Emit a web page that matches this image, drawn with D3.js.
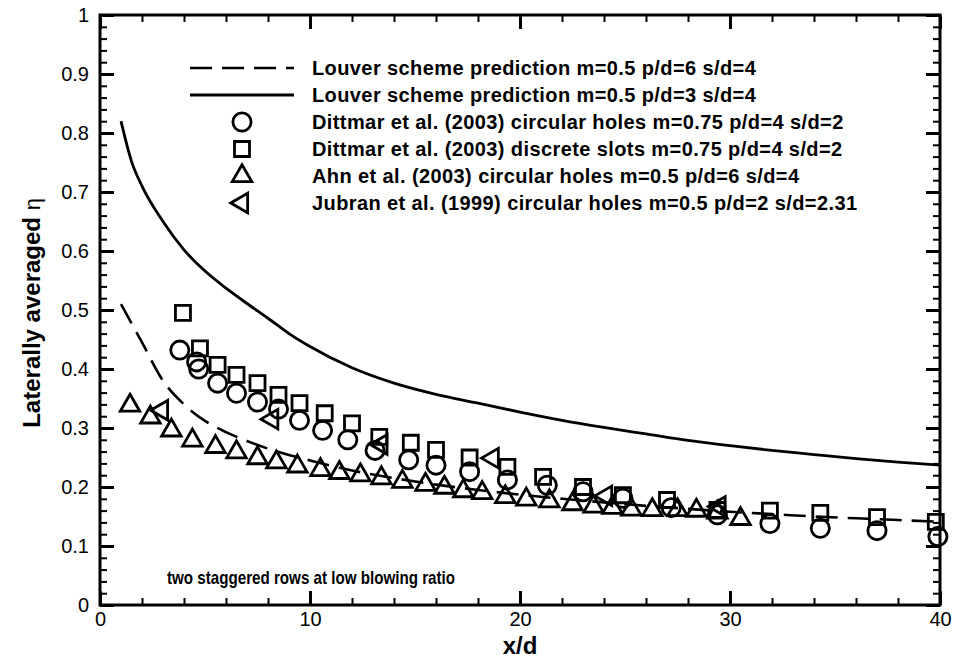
<!DOCTYPE html>
<html>
<head>
<meta charset="utf-8">
<script src="https://cdn.jsdelivr.net/npm/d3@7"></script>
<style>
  body { margin: 0; background: #fff; }
  text { font-family: "Liberation Sans", Arial, sans-serif; fill: #000; }
</style>
</head>
<body>
<div id="chart"></div>
<script>
// Louver scheme prediction, p/d=6 (dashed)
const dashX = [1, 2, 3, 4, 5, 6, 7, 8, 10, 12, 14, 16, 18, 20, 22, 24, 26, 28, 30, 32, 34, 36, 38, 40]
const dashY = [0.51, 0.445, 0.38, 0.34, 0.312, 0.293, 0.278, 0.265, 0.245, 0.228, 0.215, 0.204, 0.195, 0.187, 0.18, 0.174, 0.168, 0.163, 0.158, 0.154, 0.15, 0.147, 0.144, 0.141]
// Louver scheme prediction, p/d=3 (solid)
const solidX = [1, 1.5, 2, 3, 4, 5, 6, 7, 8, 9, 10, 12, 14, 16, 18, 20, 22, 24, 26, 28, 30, 32, 34, 36, 38, 40]
const solidY = [0.82, 0.752, 0.71, 0.65, 0.602, 0.566, 0.537, 0.511, 0.486, 0.46, 0.438, 0.402, 0.376, 0.357, 0.342, 0.327, 0.313, 0.301, 0.29, 0.279, 0.27, 0.262, 0.255, 0.248, 0.242, 0.237]
// Dittmar circular holes
const circX = [3.8, 4.6, 4.7, 5.6, 6.5, 7.5, 8.5, 9.5, 10.6, 11.8, 13.1, 14.7, 16, 17.6, 19.4, 21.3, 23, 24.9, 27.2, 29.4, 31.9, 34.3, 37, 39.9]
const circY = [0.432, 0.412, 0.4, 0.376, 0.359, 0.344, 0.332, 0.313, 0.296, 0.28, 0.262, 0.246, 0.237, 0.226, 0.212, 0.203, 0.192, 0.181, 0.165, 0.153, 0.138, 0.13, 0.126, 0.116]
// Dittmar discrete slots
const sqX = [3.95, 4.76, 5.6, 6.5, 7.5, 8.5, 9.5, 10.7, 12, 13.3, 14.8, 16, 17.6, 19.4, 21.1, 23, 24.9, 27, 29.4, 31.9, 34.3, 37, 39.8]
const sqY = [0.495, 0.435, 0.407, 0.39, 0.376, 0.356, 0.342, 0.325, 0.308, 0.285, 0.275, 0.263, 0.25, 0.234, 0.217, 0.2, 0.186, 0.178, 0.161, 0.16, 0.156, 0.149, 0.141]
// Ahn circular holes
const triX = [1.43, 2.4, 3.4, 4.4, 5.5, 6.5, 7.5, 8.4, 9.4, 10.5, 11.4, 12.4, 13.4, 14.4, 15.5, 16.4, 17.3, 18.2, 19.3, 20.3, 21.4, 22.5, 23.5, 24.4, 25.3, 26.3, 27.5, 28.4, 29.4, 30.5]
const triY = [0.338, 0.318, 0.296, 0.279, 0.268, 0.259, 0.249, 0.242, 0.235, 0.229, 0.224, 0.22, 0.215, 0.209, 0.204, 0.199, 0.193, 0.19, 0.183, 0.179, 0.176, 0.171, 0.167, 0.165, 0.162, 0.161, 0.161, 0.16, 0.157, 0.146]
// Jubran circular holes
const ltriX = [2.95, 8.2, 13.4, 18.7, 24.1, 29.5]
const ltriY = [0.33, 0.315, 0.272, 0.249, 0.185, 0.167]

const legendLabels = [
  "Louver scheme prediction m=0.5 p/d=6 s/d=4",
  "Louver scheme prediction m=0.5 p/d=3 s/d=4",
  "Dittmar et al. (2003) circular holes m=0.75 p/d=4 s/d=2",
  "Dittmar et al. (2003) discrete slots m=0.75 p/d=4 s/d=2",
  "Ahn et al. (2003) circular holes m=0.5 p/d=6 s/d=4",
  "Jubran et al. (1999) circular holes m=0.5 p/d=2 s/d=2.31"
]
const xTicks = [0, 10, 20, 30, 40]
const yTicks = [0, 0.1, 0.2, 0.3, 0.4, 0.5, 0.6, 0.7, 0.8, 0.9, 1]

const margin = {top: 15, right: 18, bottom: 60, left: 100}
const W = 958, H = 665
const width = W - margin.left - margin.right
const height = H - margin.top - margin.bottom

const svg = d3.select("#chart").append("svg")
  .attr("width", W).attr("height", H)
const g = svg.append("g")
  .attr("transform", "translate(" + margin.left + "," + margin.top + ")")

const x = d3.scaleLinear().domain([0, 40]).range([0, width])
const y = d3.scaleLinear().domain([0, 1]).range([height, 0])

const zip = (xs, ys) => xs.map((v, i) => [v, ys[i]])

// minor ticks (inward)
const minorX = d3.range(0, 40.01, 2)
const minorY = d3.range(0, 1.001, 0.02)
const tickStyle = sel => sel.call(s => s.select(".domain").remove())
  .selectAll("line").attr("stroke", "#000").attr("stroke-width", 2)

g.append("g").attr("transform", "translate(0," + height + ")")
  .call(d3.axisBottom(x).tickValues(minorX).tickSize(-7).tickFormat(""))
  .call(tickStyle)
g.append("g")
  .call(d3.axisTop(x).tickValues(minorX).tickSize(-7).tickFormat(""))
  .call(tickStyle)
g.append("g")
  .call(d3.axisLeft(y).tickValues(minorY).tickSize(-7).tickFormat(""))
  .call(tickStyle)
g.append("g").attr("transform", "translate(" + width + ",0)")
  .call(d3.axisRight(y).tickValues(minorY).tickSize(-7).tickFormat(""))
  .call(tickStyle)

// major ticks with labels
const xAxis = g.append("g").attr("transform", "translate(0," + height + ")")
  .call(d3.axisBottom(x).tickValues(xTicks).tickSize(-14).tickFormat(d3.format("d")))
xAxis.select(".domain").remove()
xAxis.selectAll("line").attr("stroke", "#000").attr("stroke-width", 3)
xAxis.selectAll("text").attr("y", 7).attr("font-size", 20)

const yAxis = g.append("g")
  .call(d3.axisLeft(y).tickValues(yTicks).tickSize(-14).tickFormat(d => d === 0 || d === 1 ? d : d3.format(".1f")(d)))
yAxis.select(".domain").remove()
yAxis.selectAll("line").attr("stroke", "#000").attr("stroke-width", 3)
yAxis.selectAll("text").attr("x", -11).attr("font-size", 20)

g.append("g")
  .call(d3.axisTop(x).tickValues(xTicks).tickSize(-14).tickFormat(""))
  .call(s => s.select(".domain").remove())
  .selectAll("line").attr("stroke", "#000").attr("stroke-width", 3)
g.append("g").attr("transform", "translate(" + width + ",0)")
  .call(d3.axisRight(y).tickValues(yTicks).tickSize(-14).tickFormat(""))
  .call(s => s.select(".domain").remove())
  .selectAll("line").attr("stroke", "#000").attr("stroke-width", 3)

// frame
g.append("rect")
  .attr("width", width).attr("height", height)
  .attr("fill", "none").attr("stroke", "#000").attr("stroke-width", 3)

// axis titles
svg.append("text")
  .attr("x", margin.left + x(20)).attr("y", 654)
  .attr("text-anchor", "middle").attr("font-size", 24).attr("font-weight", "bold")
  .text("x/d")
const yTitle = svg.append("text")
  .attr("transform", "translate(40," + (margin.top + y(0.495)) + ") rotate(-90)")
  .attr("text-anchor", "middle").attr("font-size", 24).attr("font-weight", "bold")
yTitle.append("tspan").text("Laterally averaged ")
yTitle.append("tspan").attr("font-weight", "normal").attr("font-size", 22).text("η")

// lines
const line = d3.line().x(d => x(d[0])).y(d => y(d[1])).curve(d3.curveMonotoneX)
g.append("path").datum(zip(dashX, dashY))
  .attr("d", line).attr("fill", "none").attr("stroke", "#000")
  .attr("stroke-width", 2.6).attr("stroke-dasharray", "22,10")
g.append("path").datum(zip(solidX, solidY))
  .attr("d", line).attr("fill", "none").attr("stroke", "#000")
  .attr("stroke-width", 2.8)

// markers
const sym = {
  circle: d3.symbol().type(d3.symbolCircle).size(260)(),
  square: d3.symbol().type(d3.symbolSquare).size(225)(),
  tri: d3.symbol().type(d3.symbolTriangle).size(165)()
}
const drawMarks = (data, path, rot) => {
  g.append("g").selectAll("path").data(data).enter().append("path")
    .attr("d", path)
    .attr("transform", d => "translate(" + x(d[0]) + "," + y(d[1]) + ")" + (rot ? " rotate(" + rot + ")" : ""))
    .attr("fill", "none").attr("stroke", "#000").attr("stroke-width", 2.8)
}
drawMarks(zip(sqX, sqY), sym.square)
drawMarks(zip(circX, circY), sym.circle)
drawMarks(zip(triX, triY), sym.tri)
drawMarks(zip(ltriX, ltriY), sym.tri, -90)

// legend
const legend = svg.append("g")
const rowY = i => 68 + i * 27
legend.selectAll("text").data(legendLabels).enter().append("text")
  .attr("x", 312).attr("y", (d, i) => rowY(i)).attr("dy", "0.35em")
  .attr("font-size", 20).attr("font-weight", "bold").attr("letter-spacing", 0.4)
  .text(d => d)
legend.append("line").attr("x1", 190).attr("x2", 294).attr("y1", rowY(0)).attr("y2", rowY(0))
  .attr("stroke", "#000").attr("stroke-width", 2.6).attr("stroke-dasharray", "22,10")
legend.append("line").attr("x1", 190).attr("x2", 294).attr("y1", rowY(1)).attr("y2", rowY(1))
  .attr("stroke", "#000").attr("stroke-width", 2.8)
const legendMarks = [[sym.circle, 0], [sym.square, 0], [sym.tri, 0], [sym.tri, -90]]
legend.selectAll("path").data(legendMarks).enter().append("path")
  .attr("d", d => d[0])
  .attr("transform", (d, i) => "translate(242," + rowY(i + 2) + ")" + (d[1] ? " rotate(" + d[1] + ")" : ""))
  .attr("fill", "none").attr("stroke", "#000").attr("stroke-width", 2.8)

// annotation
svg.append("text")
  .attr("x", 167).attr("y", 577).attr("dy", "0.35em")
  .attr("font-size", 19).attr("font-weight", "bold")
  .attr("textLength", 288).attr("lengthAdjust", "spacingAndGlyphs")
  .text("two staggered rows at low blowing ratio")
</script>
</body>
</html>
